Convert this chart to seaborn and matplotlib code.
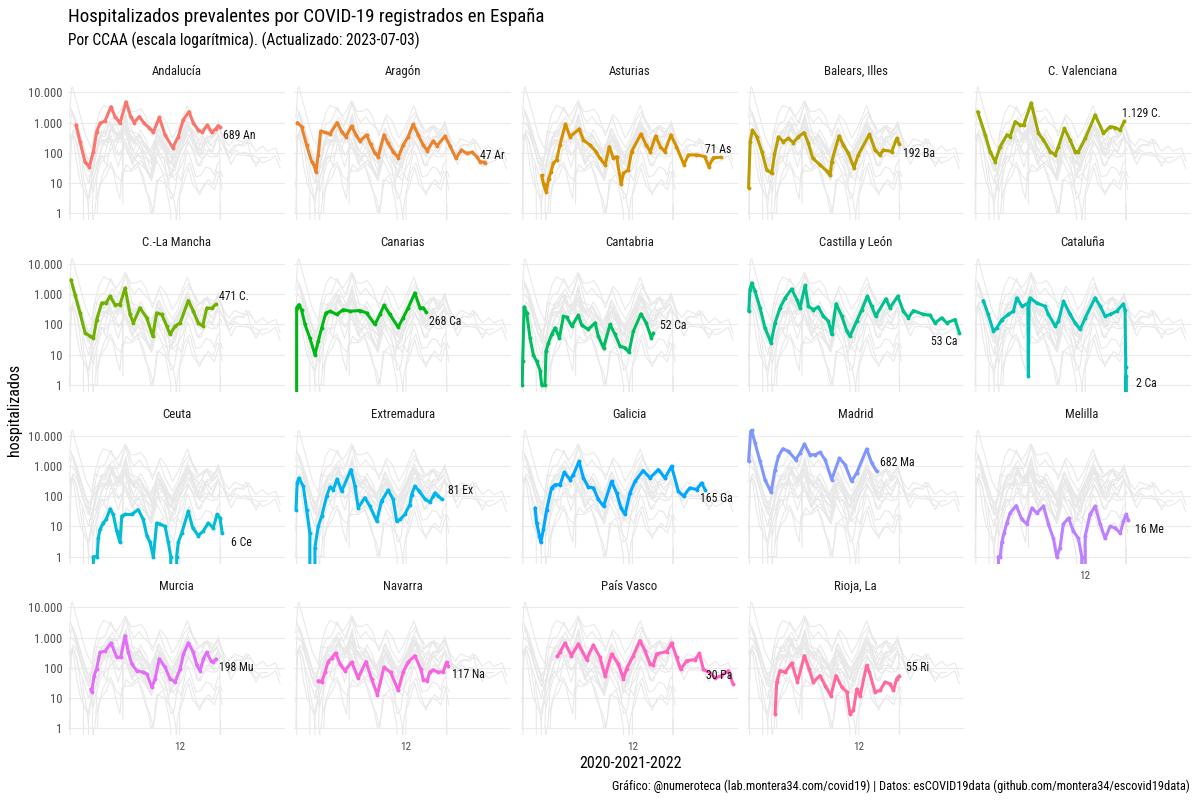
import numpy as np
import pandas as pd
import matplotlib
matplotlib.use("Agg")
import matplotlib.pyplot as plt
import matplotlib.dates as mdates
from matplotlib import font_manager
import seaborn as sns

# hospitalizados prevalentes por CCAA: (fecha, valor)
andalucia = [
    ("2020-04-15", 850), ("2020-05-08", 234), ("2020-06-06", 49), ("2020-07-01", 35),
    ("2020-07-24", 110), ("2020-08-12", 500), ("2020-08-31", 950), ("2020-09-29", 1130),
    ("2020-11-02", 3350), ("2020-11-25", 1580), ("2020-12-24", 950), ("2021-01-28", 4800),
    ("2021-02-24", 1580), ("2021-03-15", 1000), ("2021-04-14", 1580), ("2021-05-11", 950),
    ("2021-06-09", 680), ("2021-07-04", 475), ("2021-08-07", 1490), ("2021-09-09", 390),
    ("2021-10-23", 148), ("2021-11-24", 340), ("2021-12-23", 1220), ("2022-01-25", 2300),
    ("2022-02-19", 950), ("2022-03-19", 570), ("2022-04-11", 475), ("2022-05-10", 830),
    ("2022-06-04", 475), ("2022-06-27", 615), ("2022-07-12", 790), ("2022-07-22", 689),
]
aragon = [
    ("2020-03-17", 1000), ("2020-04-10", 735), ("2020-05-09", 180), ("2020-06-07", 51),
    ("2020-06-20", 40), ("2020-07-02", 24), ("2020-07-15", 85), ("2020-07-29", 525),
    ("2020-08-23", 470), ("2020-09-21", 420), ("2020-11-01", 1000), ("2020-11-27", 500),
    ("2020-12-21", 340), ("2021-01-23", 770), ("2021-02-17", 390), ("2021-03-12", 245),
    ("2021-04-19", 390), ("2021-05-12", 190), ("2021-06-06", 96), ("2021-06-25", 75),
    ("2021-07-28", 390), ("2021-08-21", 205), ("2021-09-19", 110), ("2021-10-18", 69),
    ("2021-11-15", 180), ("2021-12-14", 340), ("2022-01-12", 870), ("2022-02-10", 390),
    ("2022-03-11", 180), ("2022-04-03", 118), ("2022-05-07", 245), ("2022-05-30", 172),
    ("2022-07-14", 360), ("2022-08-11", 172), ("2022-09-15", 66), ("2022-10-17", 124),
    ("2022-11-15", 96), ("2022-12-19", 104), ("2023-01-12", 75), ("2023-01-31", 51),
    ("2023-02-23", 49), ("2023-03-01", 47),
]
asturias = [
    ("2020-06-28", 18), ("2020-07-09", 9), ("2020-07-24", 5), ("2020-08-07", 14),
    ("2020-08-21", 24), ("2020-09-03", 45), ("2020-09-22", 58), ("2020-10-11", 180),
    ("2020-11-12", 900), ("2020-12-08", 340), ("2021-01-30", 615), ("2021-02-23", 265),
    ("2021-04-02", 180), ("2021-05-06", 110), ("2021-05-29", 66), ("2021-06-28", 40),
    ("2021-07-22", 160), ("2021-08-14", 66), ("2021-09-02", 75), ("2021-09-28", 9),
    ("2021-10-11", 21), ("2021-11-08", 27), ("2021-11-27", 110), ("2022-01-20", 420),
    ("2022-02-19", 180), ("2022-03-15", 110), ("2022-04-14", 360), ("2022-05-12", 160),
    ("2022-06-06", 110), ("2022-07-11", 390), ("2022-08-12", 160), ("2022-09-24", 41),
    ("2022-10-20", 85), ("2022-12-05", 85), ("2023-01-22", 75), ("2023-02-14", 35),
    ("2023-03-12", 69), ("2023-04-23", 71),
]
baleares = [
    ("2020-03-08", 7), ("2020-03-17", 234), ("2020-03-30", 565), ("2020-04-24", 340),
    ("2020-05-23", 110), ("2020-06-20", 27), ("2020-07-19", 21), ("2020-08-04", 89),
    ("2020-08-27", 340), ("2020-09-24", 234), ("2020-10-23", 300), ("2020-11-21", 218),
    ("2020-12-19", 340), ("2021-01-21", 465), ("2021-02-15", 205), ("2021-03-12", 66),
    ("2021-04-23", 40), ("2021-05-31", 25), ("2021-06-20", 18), ("2021-06-29", 51),
    ("2021-08-10", 360), ("2021-09-04", 180), ("2021-10-03", 96), ("2021-11-04", 32),
    ("2021-11-29", 85), ("2022-02-01", 410), ("2022-03-05", 124), ("2022-04-03", 85),
    ("2022-04-22", 124), ("2022-06-09", 110), ("2022-07-08", 300), ("2022-07-23", 192),
]
valenciana = [
    ("2020-03-23", 2300), ("2020-05-06", 390), ("2020-06-03", 110), ("2020-07-02", 51),
    ("2020-07-31", 160), ("2020-09-07", 390), ("2020-09-26", 340), ("2020-10-25", 1070),
    ("2020-11-22", 830), ("2020-12-12", 800), ("2021-01-25", 4350), ("2021-03-08", 440),
    ("2021-04-06", 265), ("2021-05-14", 110), ("2021-06-12", 85), ("2021-07-01", 160),
    ("2021-08-04", 645), ("2021-09-06", 265), ("2021-10-05", 110), ("2021-10-24", 110),
    ("2021-12-02", 300), ("2022-01-28", 1780), ("2022-03-17", 440), ("2022-04-24", 735),
    ("2022-05-23", 680), ("2022-06-21", 565), ("2022-07-15", 1129),
]
mancha = [
    ("2020-03-17", 3030), ("2020-04-09", 975), ("2020-05-08", 240), ("2020-06-06", 53),
    ("2020-07-05", 41), ("2020-07-24", 36), ("2020-08-12", 146), ("2020-09-10", 515),
    ("2020-10-05", 515), ("2020-10-28", 860), ("2020-11-25", 455), ("2020-12-24", 455),
    ("2021-01-22", 1620), ("2021-02-20", 215), ("2021-03-11", 113), ("2021-04-18", 355),
    ("2021-05-27", 166), ("2021-06-30", 41), ("2021-07-23", 240), ("2021-08-21", 215),
    ("2021-09-19", 89), ("2021-10-08", 47), ("2021-11-06", 89), ("2021-12-05", 113),
    ("2022-01-21", 620), ("2022-02-19", 275), ("2022-03-19", 113), ("2022-04-14", 89),
    ("2022-05-07", 355), ("2022-06-04", 340), ("2022-06-29", 471),
]
canarias = [
    ("2020-03-09", 0), ("2020-03-13", 355), ("2020-03-26", 455), ("2020-04-10", 310),
    ("2020-04-30", 100), ("2020-05-28", 36), ("2020-06-26", 10), ("2020-07-15", 28),
    ("2020-08-04", 78), ("2020-08-28", 240), ("2020-09-21", 275), ("2020-10-29", 215),
    ("2020-12-06", 310), ("2021-01-13", 275), ("2021-03-12", 290), ("2021-04-19", 240),
    ("2021-06-06", 100), ("2021-07-05", 215), ("2021-07-28", 435), ("2021-08-31", 215),
    ("2021-10-18", 81), ("2021-11-15", 166), ("2021-12-14", 355), ("2022-01-22", 1100),
    ("2022-02-20", 355), ("2022-03-11", 355), ("2022-03-26", 268),
]
cantabria = [
    ("2020-03-08", 1), ("2020-03-11", 6), ("2020-03-19", 380), ("2020-04-03", 240),
    ("2020-04-22", 36), ("2020-05-11", 10), ("2020-05-30", 6), ("2020-06-19", 3),
    ("2020-06-28", 1), ("2020-07-17", 1), ("2020-07-23", 13), ("2020-08-06", 25),
    ("2020-08-25", 47), ("2020-09-13", 78), ("2020-10-08", 36), ("2020-10-31", 188),
    ("2020-11-19", 175), ("2020-12-18", 89), ("2021-01-25", 203), ("2021-02-13", 95),
    ("2021-03-23", 69), ("2021-05-01", 113), ("2021-05-20", 41), ("2021-06-19", 17),
    ("2021-07-26", 100), ("2021-08-24", 47), ("2021-09-22", 19), ("2021-10-20", 17),
    ("2021-11-12", 12), ("2021-12-07", 60), ("2022-01-20", 224), ("2022-02-19", 113),
    ("2022-03-21", 36), ("2022-04-01", 52),
]
castilla = [
    ("2020-03-09", 275), ("2020-03-16", 1420), ("2020-03-26", 2350), ("2020-04-14", 1260),
    ("2020-05-13", 355), ("2020-06-10", 78), ("2020-07-15", 25), ("2020-08-07", 113),
    ("2020-09-05", 355), ("2020-10-04", 760), ("2020-11-11", 1500), ("2020-12-10", 665),
    ("2020-12-29", 355), ("2021-01-27", 1990), ("2021-02-15", 400), ("2021-03-15", 310),
    ("2021-04-13", 380), ("2021-05-12", 188), ("2021-06-10", 129), ("2021-06-29", 47),
    ("2021-07-24", 490), ("2021-08-26", 188), ("2021-09-24", 60), ("2021-10-12", 41),
    ("2021-11-20", 129), ("2021-12-19", 310), ("2022-01-20", 860), ("2022-02-14", 400),
    ("2022-03-09", 188), ("2022-05-07", 705), ("2022-05-30", 355), ("2022-07-14", 860),
    ("2022-08-15", 275), ("2022-09-13", 166), ("2022-10-12", 290), ("2022-12-08", 215),
    ("2023-01-15", 203), ("2023-02-13", 113), ("2023-03-24", 166), ("2023-04-21", 113),
    ("2023-06-08", 146), ("2023-07-03", 53),
]
cataluna = [
    ("2020-04-25", 620), ("2020-05-23", 215), ("2020-06-22", 60), ("2020-07-12", 78),
    ("2020-08-10", 146), ("2020-09-16", 215), ("2020-10-15", 275), ("2020-11-03", 760),
    ("2020-12-03", 400), ("2021-01-06", 500), ("2021-01-09", 2), ("2021-01-13", 600),
    ("2021-01-19", 760), ("2021-02-26", 515), ("2021-04-15", 400), ("2021-05-04", 215),
    ("2021-06-12", 89), ("2021-07-01", 129), ("2021-07-30", 590), ("2021-09-06", 215),
    ("2021-10-05", 113), ("2021-11-03", 69), ("2021-12-02", 166), ("2022-01-28", 760),
    ("2022-02-26", 400), ("2022-03-26", 188), ("2022-04-24", 215), ("2022-06-01", 275),
    ("2022-07-09", 480), ("2022-07-19", 300), ("2022-07-23", 4), ("2022-07-24", 0),
    ("2022-07-25", 2),
]
ceuta = [
    ("2020-07-09", 0), ("2020-07-24", 1), ("2020-08-15", 1), ("2020-08-21", 4),
    ("2020-08-31", 8), ("2020-09-19", 13), ("2020-10-05", 17), ("2020-10-28", 38),
    ("2020-11-15", 25), ("2020-12-05", 7), ("2020-12-24", 3), ("2021-01-03", 22),
    ("2021-01-22", 25), ("2021-03-01", 25), ("2021-04-08", 36), ("2021-05-07", 17),
    ("2021-05-27", 5), ("2021-06-15", 3), ("2021-07-04", 1), ("2021-07-23", 13),
    ("2021-08-11", 12), ("2021-09-09", 10), ("2021-09-28", 3), ("2021-10-12", 1),
    ("2021-10-27", 0), ("2021-11-15", 1), ("2021-11-24", 3), ("2021-12-14", 6),
    ("2022-01-21", 32), ("2022-02-15", 9), ("2022-03-19", 5), ("2022-04-17", 7),
    ("2022-05-15", 13), ("2022-06-13", 9), ("2022-07-06", 25), ("2022-07-22", 19),
    ("2022-08-04", 6),
]
extremadura = [
    ("2020-03-09", 36), ("2020-03-16", 275), ("2020-03-26", 400), ("2020-04-20", 215),
    ("2020-05-09", 36), ("2020-05-28", 6), ("2020-06-12", 0), ("2020-06-26", 2),
    ("2020-07-15", 10), ("2020-08-04", 22), ("2020-09-01", 100), ("2020-09-21", 203),
    ("2020-10-10", 166), ("2020-11-01", 370), ("2020-11-27", 146), ("2021-01-19", 760),
    ("2021-02-11", 215), ("2021-03-02", 41), ("2021-04-09", 89), ("2021-05-08", 47),
    ("2021-06-16", 15), ("2021-07-14", 69), ("2021-08-21", 158), ("2021-09-19", 78),
    ("2021-10-09", 15), ("2021-10-28", 17), ("2021-11-25", 25), ("2021-12-24", 53),
    ("2022-01-03", 113), ("2022-01-22", 215), ("2022-02-16", 146), ("2022-03-20", 81),
    ("2022-04-18", 63), ("2022-05-07", 100), ("2022-05-17", 129), ("2022-06-05", 100),
    ("2022-06-24", 81),
]
galicia = [
    ("2020-05-21", 41), ("2020-05-30", 13), ("2020-06-15", 5), ("2020-06-23", 3),
    ("2020-07-08", 8), ("2020-07-27", 36), ("2020-08-24", 188), ("2020-09-13", 240),
    ("2020-10-12", 240), ("2020-11-05", 620), ("2020-12-08", 355), ("2020-12-27", 515),
    ("2021-01-29", 1420), ("2021-02-23", 400), ("2021-03-23", 203), ("2021-04-22", 188),
    ("2021-05-20", 78), ("2021-06-19", 47), ("2021-08-04", 310), ("2021-09-02", 129),
    ("2021-09-27", 41), ("2021-10-20", 25), ("2021-11-18", 129), ("2021-12-17", 310),
    ("2022-02-02", 705), ("2022-03-13", 400), ("2022-04-30", 760), ("2022-06-07", 400),
    ("2022-07-15", 975), ("2022-08-23", 146), ("2022-09-22", 100), ("2022-10-28", 188),
    ("2022-12-06", 166), ("2023-01-04", 275), ("2023-01-24", 165),
]
madrid = [
    ("2020-03-08", 1420), ("2020-03-20", 13800), ("2020-03-26", 15000), ("2020-04-14", 5750),
    ("2020-05-13", 1420), ("2020-06-10", 355), ("2020-07-15", 135), ("2020-08-07", 760),
    ("2020-08-27", 2090), ("2020-09-21", 3720), ("2020-10-23", 3030), ("2020-12-04", 1620),
    ("2020-12-29", 2690), ("2021-01-23", 5350), ("2021-02-24", 2350), ("2021-03-25", 2350),
    ("2021-04-23", 2820), ("2021-05-22", 1620), ("2021-06-29", 355), ("2021-08-12", 1820),
    ("2021-09-14", 1100), ("2021-10-21", 310), ("2021-11-20", 590), ("2022-01-16", 3630),
    ("2022-02-14", 1260), ("2022-03-14", 682),
]
melilla = [
    ("2020-07-12", 0), ("2020-07-21", 1), ("2020-07-31", 1), ("2020-08-09", 3),
    ("2020-08-22", 6), ("2020-09-07", 13), ("2020-09-26", 28), ("2020-10-31", 49),
    ("2020-12-03", 17), ("2020-12-31", 12), ("2021-01-29", 41), ("2021-02-26", 28),
    ("2021-04-06", 47), ("2021-05-04", 12), ("2021-06-02", 4), ("2021-06-21", 1),
    ("2021-07-10", 2), ("2021-07-29", 12), ("2021-08-28", 19), ("2021-09-25", 7),
    ("2021-10-24", 4), ("2021-11-12", 1), ("2021-11-18", 0), ("2021-12-02", 5),
    ("2021-12-30", 25), ("2022-01-28", 47), ("2022-02-26", 12), ("2022-03-26", 4),
    ("2022-04-24", 10), ("2022-05-23", 9), ("2022-06-21", 6), ("2022-07-10", 15),
    ("2022-07-25", 25), ("2022-08-07", 16),
]
murcia = [
    ("2020-07-09", 20), ("2020-07-15", 16), ("2020-07-28", 56), ("2020-08-12", 93),
    ("2020-08-31", 330), ("2020-09-29", 355), ("2020-11-02", 665), ("2020-12-05", 224),
    ("2020-12-28", 224), ("2021-01-22", 1170), ("2021-02-10", 330), ("2021-03-02", 135),
    ("2021-03-30", 81), ("2021-05-07", 72), ("2021-05-27", 63), ("2021-06-25", 23),
    ("2021-07-14", 44), ("2021-08-07", 200), ("2021-09-09", 105), ("2021-10-08", 44),
    ("2021-11-06", 34), ("2021-12-05", 93), ("2021-12-24", 290), ("2022-01-21", 665),
    ("2022-02-19", 330), ("2022-03-11", 120), ("2022-03-29", 81), ("2022-04-18", 200),
    ("2022-05-07", 330), ("2022-05-30", 174), ("2022-06-13", 155), ("2022-06-29", 198),
]
navarra = [
    ("2020-07-15", 38), ("2020-08-04", 34), ("2020-08-23", 72), ("2020-09-10", 162),
    ("2020-09-30", 210), ("2020-10-23", 310), ("2020-11-17", 135), ("2020-12-15", 81),
    ("2021-01-23", 155), ("2021-03-02", 46), ("2021-04-15", 162), ("2021-05-18", 44),
    ("2021-06-20", 13), ("2021-07-28", 105), ("2021-09-04", 72), ("2021-10-18", 18),
    ("2021-11-15", 72), ("2021-12-14", 155), ("2022-01-22", 255), ("2022-02-24", 93),
    ("2022-03-11", 41), ("2022-04-03", 38), ("2022-04-18", 75), ("2022-05-08", 85),
    ("2022-06-05", 72), ("2022-07-04", 75), ("2022-07-23", 155), ("2022-08-01", 117),
]
pais_vasco = [
    ("2020-09-26", 240), ("2020-10-11", 330), ("2020-11-09", 665), ("2020-12-16", 255),
    ("2021-01-25", 620), ("2021-03-13", 188), ("2021-04-21", 575), ("2021-05-29", 224),
    ("2021-06-28", 53), ("2021-08-04", 290), ("2021-09-12", 135), ("2021-10-11", 44),
    ("2021-10-29", 93), ("2021-12-07", 255), ("2022-01-14", 800), ("2022-02-12", 370),
    ("2022-03-13", 135), ("2022-04-01", 125), ("2022-04-20", 290), ("2022-06-17", 345),
    ("2022-07-15", 665), ("2022-08-13", 224), ("2022-09-05", 89), ("2022-10-10", 174),
    ("2022-11-27", 188), ("2022-12-22", 300), ("2023-01-14", 89), ("2023-02-22", 69),
    ("2023-03-22", 46), ("2023-04-28", 56), ("2023-06-06", 81), ("2023-07-03", 30),
]
rioja = [
    ("2020-08-07", 3), ("2020-08-17", 34), ("2020-09-05", 81), ("2020-10-04", 72),
    ("2020-11-11", 146), ("2020-12-14", 34), ("2021-01-23", 255), ("2021-02-19", 93),
    ("2021-03-15", 34), ("2021-04-23", 56), ("2021-05-22", 26), ("2021-06-24", 12),
    ("2021-07-24", 56), ("2021-08-26", 23), ("2021-09-24", 16), ("2021-10-12", 3),
    ("2021-11-01", 4), ("2021-11-20", 20), ("2021-12-09", 12), ("2022-01-16", 120),
    ("2022-02-01", 72), ("2022-03-05", 16), ("2022-04-03", 18), ("2022-05-02", 34),
    ("2022-05-30", 30), ("2022-06-19", 18), ("2022-07-08", 44), ("2022-07-23", 55),
]

ccaa = ["Andalucía", "Aragón", "Asturias", "Balears, Illes", "C. Valenciana",
        "C.-La Mancha", "Canarias", "Cantabria", "Castilla y León", "Cataluña",
        "Ceuta", "Extremadura", "Galicia", "Madrid", "Melilla",
        "Murcia", "Navarra", "País Vasco", "Rioja, La"]
series = [andalucia, aragon, asturias, baleares, valenciana,
          mancha, canarias, cantabria, castilla, cataluna,
          ceuta, extremadura, galicia, madrid, melilla,
          murcia, navarra, pais_vasco, rioja]

y_breaks = [1, 10, 100, 1000, 10000]
y_labels = ["1", "10", "100", "1.000", "10.000"]

# desplazamiento de las etiquetas finales (px: derecha, abajo) y alineación
label_nudge = {
    "Andalucía": (3, 8, "left"), "Aragón": (-5, -7, "left"), "Asturias": (-16, -8, "left"),
    "Balears, Illes": (4, 9, "left"), "C. Valenciana": (-2, -7, "left"),
    "C.-La Mancha": (3, -8, "left"), "Canarias": (3, 10, "left"), "Cantabria": (7, -8, "left"),
    "Castilla y León": (-2, 9, "right"), "Cataluña": (10, 8, "left"), "Ceuta": (9, 9, "left"),
    "Extremadura": (6, -8, "left"), "Galicia": (-5, 9, "left"), "Madrid": (3, -8, "left"),
    "Melilla": (7, 9, "left"), "Murcia": (3, 9, "left"), "Navarra": (4, 9, "left"),
    "País Vasco": (-1, -8, "right"), "Rioja, La": (7, -8, "left"),
}


def hue_pal(n, l=65, c=100):
    # equivalente a scales::hue_pal() de ggplot2 (HCL, blanco D65)
    xn, yn, zn = 95.047, 100.0, 108.883
    den = xn + 15 * yn + 3 * zn
    un, vn = 4 * xn / den, 9 * yn / den
    m = np.array([[3.2404542, -1.5371385, -0.4985314],
                  [-0.9692660, 1.8760108, 0.0415560],
                  [0.0556434, -0.2040259, 1.0572252]])
    out = []
    for h in 15 + np.arange(n) * 360 / n:
        hr = np.deg2rad(h)
        u, v = c * np.cos(hr), c * np.sin(hr)
        y = yn * ((l + 16) / 116) ** 3
        up = u / (13 * l) + un
        vp = v / (13 * l) + vn
        x = 9 * y * up / (4 * vp)
        z = y * (12 - 3 * up - 20 * vp) / (4 * vp)
        rgb = np.clip(m @ (np.array([x, y, z]) / 100), 0, 1)
        rgb = np.where(rgb <= 0.0031308, 12.92 * rgb, 1.055 * rgb ** (1 / 2.4) - 0.055)
        out.append(tuple(np.clip(rgb, 0, 1)))
    return out


colores = dict(zip(ccaa, hue_pal(len(ccaa))))

rows = []
for nombre, serie in zip(ccaa, series):
    for fecha, valor in serie:
        rows.append((nombre, fecha, valor))
df = pd.DataFrame(rows, columns=["ccaa", "fecha", "hospitalizados"])
df["fecha"] = pd.to_datetime(df["fecha"])

sns.set_theme(style="white")
nombres = {f.name for f in font_manager.fontManager.ttflist}
fuente = "Roboto Condensed" if "Roboto Condensed" in nombres else "Roboto"
plt.rcParams["font.family"] = [fuente, "DejaVu Sans"]

g = sns.FacetGrid(df, col="ccaa", col_wrap=5, col_order=ccaa,
                  sharex=True, sharey=True, height=1.6, aspect=1.5)
fig = g.figure
fig.set_size_inches(12, 8)

x0 = mdates.date2num(pd.Timestamp("2020-02-29"))
x1 = mdates.date2num(pd.Timestamp("2023-07-31"))

for i, nombre in enumerate(ccaa):
    ax = g.axes_dict[nombre]
    fila, col = divmod(i, 5)
    sns.lineplot(data=df, x="fecha", y="hospitalizados", units="ccaa", estimator=None,
                 color="#e8e8e8", linewidth=0.75, ax=ax, legend=False)
    sub = df[df["ccaa"] == nombre]
    sns.lineplot(data=sub, x="fecha", y="hospitalizados", estimator=None,
                 color=colores[nombre], linewidth=2.2, marker="o", markersize=2.8,
                 markeredgewidth=0, ax=ax, legend=False)

    ultimo = sub.iloc[-1]
    valor = int(ultimo["hospitalizados"])
    texto = f"{valor:,}".replace(",", ".") + " " + nombre[:2]
    dx, dy, ha = label_nudge[nombre]
    ax.annotate(texto, xy=(mdates.date2num(ultimo["fecha"]), max(valor, 1)),
                xytext=(dx * 0.72, -dy * 0.72), textcoords="offset points",
                ha=ha, va="center", fontsize=8.5, color="#111111")

    ax.set_yscale("log")
    ax.set_ylim(10 ** -0.228, 10 ** 4.35)
    ax.set_xlim(x0, x1)
    ax.set_yticks(y_breaks)
    ax.set_yticklabels(y_labels)
    ax.minorticks_off()
    ax.set_xticks([mdates.date2num(pd.Timestamp("2021-12-01"))])
    ax.set_xticklabels(["12"])
    ax.set_xlabel("")
    ax.set_ylabel("")
    ax.set_title(nombre, fontsize=9.2, color="#1a1a1a", pad=5)
    ax.yaxis.grid(True, color="#ebebeb", linewidth=0.8)
    ax.xaxis.grid(False)
    ax.set_axisbelow(True)
    for s in ax.spines.values():
        s.set_visible(False)
    abajo = i >= 14
    ax.tick_params(axis="y", length=0, pad=4, labelsize=9, labelcolor="#4d4d4d",
                   labelleft=(col == 0))
    ax.tick_params(axis="x", length=3 if abajo else 0, width=0.8, color="#333333",
                   pad=2, labelsize=8, labelcolor="#4d4d4d", labelbottom=abajo)

    left = (68 + col * 226.4) / 1200
    top = 81.7 + fila * 171.7
    ax.set_position([left, 1 - (top + 138.5) / 800, 217 / 1200, 138.5 / 800])

fig.text(68 / 1200, 1 - 17 / 800, "Hospitalizados prevalentes por COVID-19 registrados en España",
         ha="left", va="center", fontsize=13.6, color="#000000")
fig.text(68 / 1200, 1 - 40 / 800, "Por CCAA (escala logarítmica). (Actualizado: 2023-07-03)",
         ha="left", va="center", fontsize=11.2, color="#000000")
fig.text(15 / 1200, 1 - 410 / 800, "hospitalizados", rotation=90,
         ha="center", va="center", fontsize=11.5, color="#000000")
fig.text(630 / 1200, 1 - 763 / 800, "2020-2021-2022",
         ha="center", va="center", fontsize=11.5, color="#000000")
fig.text(1190 / 1200, 1 - 786 / 800,
         "Gráfico: @numeroteca (lab.montera34.com/covid19) | Datos: esCOVID19data (github.com/montera34/escovid19data)",
         ha="right", va="center", fontsize=8.9, color="#000000")

fig.savefig("out.png", dpi=100)
